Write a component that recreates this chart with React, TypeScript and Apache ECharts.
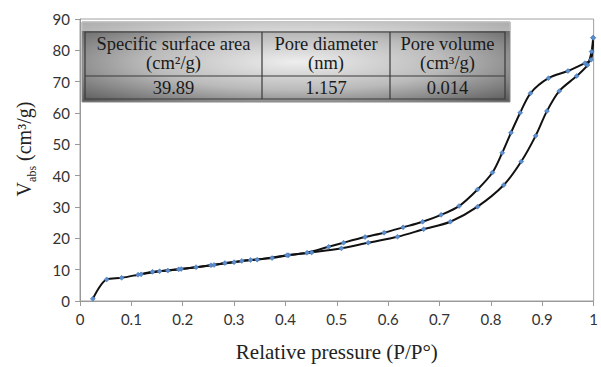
import React, { useEffect, useRef } from "react";
import * as echarts from "echarts";

const xTickLabels = ["0", "0.1", "0.2", "0.3", "0.4", "0.5", "0.6", "0.7", "0.8", "0.9", "1"];

const adsorptionX = [0.025, 0.052, 0.081, 0.113, 0.141, 0.171, 0.197, 0.255, 0.3, 0.332, 0.374, 0.406, 0.451, 0.509, 0.561, 0.618, 0.669, 0.721, 0.774, 0.825, 0.859, 0.887, 0.909, 0.933, 0.967, 0.988, 0.996, 0.999];
const adsorptionY = [0.7, 6.9, 7.4, 8.4, 9.3, 9.7, 10.2, 11.4, 12.4, 13.1, 13.7, 14.6, 15.5, 16.8, 18.6, 20.5, 22.9, 25.3, 30.1, 37.0, 44.5, 52.7, 60.6, 67.0, 71.8, 75.3, 79.6, 84.0];

const desorptionX = [0.999, 0.995, 0.983, 0.95, 0.912, 0.877, 0.857, 0.839, 0.822, 0.803, 0.774, 0.738, 0.703, 0.667, 0.629, 0.592, 0.555, 0.513, 0.484, 0.442, 0.403, 0.345, 0.315, 0.282, 0.261, 0.226, 0.192, 0.155, 0.119];
const desorptionY = [84.0, 77.0, 75.9, 73.4, 71.1, 66.3, 60.1, 53.7, 47.3, 41.0, 35.6, 30.3, 27.5, 25.3, 23.5, 21.8, 20.4, 18.6, 17.3, 15.4, 14.6, 13.2, 12.8, 12.1, 11.5, 10.8, 10.1, 9.5, 8.5];

const tableHeaders = [["Specific surface area", "(cm²/g)"], ["Pore diameter", "(nm)"], ["Pore volume", "(cm³/g)"]];
const tableValues = ["39.89", "1.157", "0.014"];

const serif = "'Liberation Serif', 'DejaVu Serif', serif";
const sans = "Lato, 'Open Sans', 'Liberation Sans', sans-serif";

export default function App() {
  const ref = useRef<HTMLDivElement>(null);
  useEffect(() => {
    document.body.style.margin = "0";
    const chart = echarts.init(ref.current!, null, { renderer: "svg" });
    const pair = (xs: number[], ys: number[]) => xs.map((x, i) => [x, ys[i]]);

    const colX = [85, 262, 390, 505];
    const textEls: any[] = [];
    const tstyle = { fontFamily: serif, fontSize: 18.5, fill: "#1a1a1a", align: "center", verticalAlign: "middle" };
    tableHeaders.forEach((h, i) => {
      const cx = (colX[i] + colX[i + 1]) / 2;
      textEls.push({ type: "text", x: cx, y: 44, style: { ...tstyle, text: h[0] } });
      textEls.push({ type: "text", x: cx, y: 63, style: { ...tstyle, text: h[1] } });
      textEls.push({ type: "text", x: cx, y: 88, style: { ...tstyle, text: tableValues[i] } });
    });
    const lineStyle = { stroke: "#3a3a3a", lineWidth: 1.2 };

    chart.setOption({
      animation: false,
      grid: { left: 80, right: 4, top: 19, bottom: 66, show: true, borderColor: "#a0a0a0", borderWidth: 1 },
      xAxis: {
        type: "value", min: 0, max: 1, interval: 0.1,
        name: "Relative pressure (P/P°)", nameLocation: "middle", nameGap: 40,
        nameTextStyle: { fontFamily: serif, fontSize: 21, color: "#222" },
        axisLine: { lineStyle: { color: "#999" } },
        axisTick: { show: true, length: 5, lineStyle: { color: "#999" } },
        splitLine: { show: false },
        axisLabel: { fontFamily: sans, fontSize: 15, color: "#333", margin: 10, formatter: (v: number) => xTickLabels[Math.round(v * 10)] },
      },
      yAxis: {
        type: "value", min: 0, max: 90, interval: 10,
        axisLine: { show: true, lineStyle: { color: "#999" } },
        axisTick: { show: true, length: 5, lineStyle: { color: "#999" } },
        splitLine: { show: false },
        axisLabel: { fontFamily: sans, fontSize: 15, color: "#333", margin: 10 },
      },
      series: [
        {
          type: "line", name: "Adsorption", data: pair(adsorptionX, adsorptionY), smooth: 0.3,
          lineStyle: { color: "#111", width: 2 }, symbol: "diamond", symbolSize: 5,
          itemStyle: { color: "#5b8fd0", borderColor: "#3f6aa8", borderWidth: 0.5 },
        },
        {
          type: "line", name: "Desorption", data: pair(desorptionX, desorptionY), smooth: 0.3,
          lineStyle: { color: "#111", width: 2 }, symbol: "diamond", symbolSize: 5,
          itemStyle: { color: "#5b8fd0", borderColor: "#3f6aa8", borderWidth: 0.5 },
        },
      ],
      graphic: [
        {
          type: "text", x: 24, y: 149, rotation: Math.PI / 2,
          style: {
            text: "{v|V}{s|abs}{v| (cm³/g)}", align: "center", verticalAlign: "middle",
            rich: {
              v: { fontFamily: serif, fontSize: 20, fill: "#222", verticalAlign: "bottom" },
              s: { fontFamily: serif, fontSize: 12, fill: "#222", verticalAlign: "bottom", padding: [0, 0, -4, 0] },
            },
          },
        },
        {
          type: "group",
          z: 100,
          children: [
            {
              type: "rect", shape: { x: 82, y: 22, width: 428, height: 80 },
              style: {
                fill: new echarts.graphic.RadialGradient(0.5, 0.5, 0.7, [
                  { offset: 0, color: "#eeeeee" },
                  { offset: 0.5, color: "#bababa" },
                  { offset: 1, color: "#5a5a5a" },
                ]),
                stroke: "#8a8a8a", lineWidth: 1,
              },
            },
            { type: "rect", shape: { x: 82, y: 22, width: 428, height: 9 }, style: { fill: "rgba(255,255,255,0.5)" } },
            { type: "rect", shape: { x: 85, y: 32, width: 420, height: 67 }, style: { fill: "none", ...lineStyle } },
            { type: "line", shape: { x1: 85, y1: 76, x2: 505, y2: 76 }, style: lineStyle },
            { type: "line", shape: { x1: 262, y1: 32, x2: 262, y2: 99 }, style: lineStyle },
            { type: "line", shape: { x1: 390, y1: 32, x2: 390, y2: 99 }, style: lineStyle },
            ...textEls,
          ],
        },
      ],
    });
    return () => chart.dispose();
  }, []);
  return <div ref={ref} style={{ width: 601, height: 367 }} />;
}
